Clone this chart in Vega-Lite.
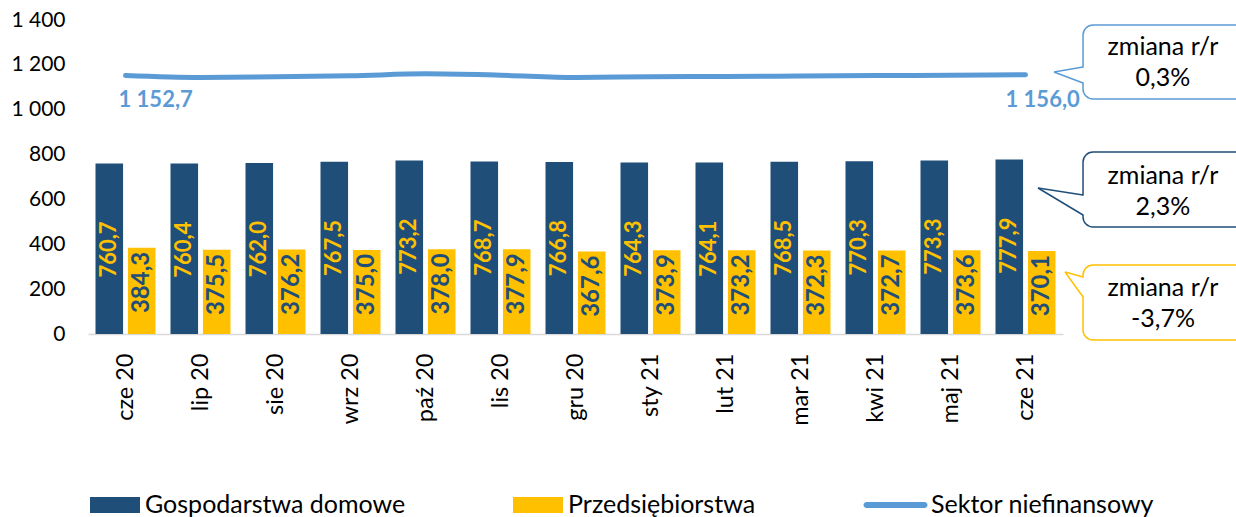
{
  "$schema": "https://vega.github.io/schema/vega-lite/v6.json",
  "width": 1148,
  "height": 314,
  "autosize": {"type": "none"},
  "padding": {"left": 88, "top": 20, "right": 0, "bottom": 183},
  "config": {
    "view": {"stroke": null},
    "font": "Lato",
    "locale": {"number": {"decimal": ",", "thousands": " ", "grouping": [3], "currency": ["", " zł"]}},
    "axis": {"labelFont": "Lato", "labelColor": "#000000"}
  },
  "datasets": {
    "bars": [
      {"month": "cze 20", "series": "Gospodarstwa domowe", "value": 760.7},
      {"month": "lip 20", "series": "Gospodarstwa domowe", "value": 760.4},
      {"month": "sie 20", "series": "Gospodarstwa domowe", "value": 762.0},
      {"month": "wrz 20", "series": "Gospodarstwa domowe", "value": 767.5},
      {"month": "paź 20", "series": "Gospodarstwa domowe", "value": 773.2},
      {"month": "lis 20", "series": "Gospodarstwa domowe", "value": 768.7},
      {"month": "gru 20", "series": "Gospodarstwa domowe", "value": 766.8},
      {"month": "sty 21", "series": "Gospodarstwa domowe", "value": 764.3},
      {"month": "lut 21", "series": "Gospodarstwa domowe", "value": 764.1},
      {"month": "mar 21", "series": "Gospodarstwa domowe", "value": 768.5},
      {"month": "kwi 21", "series": "Gospodarstwa domowe", "value": 770.3},
      {"month": "maj 21", "series": "Gospodarstwa domowe", "value": 773.3},
      {"month": "cze 21", "series": "Gospodarstwa domowe", "value": 777.9},
      {"month": "cze 20", "series": "Przedsiębiorstwa", "value": 384.3},
      {"month": "lip 20", "series": "Przedsiębiorstwa", "value": 375.5},
      {"month": "sie 20", "series": "Przedsiębiorstwa", "value": 376.2},
      {"month": "wrz 20", "series": "Przedsiębiorstwa", "value": 375.0},
      {"month": "paź 20", "series": "Przedsiębiorstwa", "value": 378.0},
      {"month": "lis 20", "series": "Przedsiębiorstwa", "value": 377.9},
      {"month": "gru 20", "series": "Przedsiębiorstwa", "value": 367.6},
      {"month": "sty 21", "series": "Przedsiębiorstwa", "value": 373.9},
      {"month": "lut 21", "series": "Przedsiębiorstwa", "value": 373.2},
      {"month": "mar 21", "series": "Przedsiębiorstwa", "value": 372.3},
      {"month": "kwi 21", "series": "Przedsiębiorstwa", "value": 372.7},
      {"month": "maj 21", "series": "Przedsiębiorstwa", "value": 373.6},
      {"month": "cze 21", "series": "Przedsiębiorstwa", "value": 370.1}
    ],
    "sector": [
      {"month": "cze 20", "value": 1152.7},
      {"month": "lip 20", "value": 1144},
      {"month": "sie 20", "value": 1147},
      {"month": "wrz 20", "value": 1151},
      {"month": "paź 20", "value": 1160},
      {"month": "lis 20", "value": 1154},
      {"month": "gru 20", "value": 1144},
      {"month": "sty 21", "value": 1147},
      {"month": "lut 21", "value": 1148},
      {"month": "mar 21", "value": 1150},
      {"month": "kwi 21", "value": 1152},
      {"month": "maj 21", "value": 1154},
      {"month": "cze 21", "value": 1156.0}
    ]
  },
  "layer": [
    {
      "layer": [
        {
          "data": {"name": "bars"},
          "mark": {"type": "bar"},
          "encoding": {
            "x": {
              "field": "month", "type": "nominal",
              "scale": {"domain": ["cze 20", "lip 20", "sie 20", "wrz 20", "paź 20", "lis 20", "gru 20", "sty 21", "lut 21", "mar 21", "kwi 21", "maj 21", "cze 21"], "range": [0, 975], "paddingInner": 0.2, "paddingOuter": 0.1},
              "axis": {"title": null, "labelAngle": -90, "labelAlign": "right", "labelBaseline": "middle", "labelPadding": 19, "ticks": false, "tickSize": 0, "domainColor": "#D9D9D9", "domainWidth": 1.5, "labelFontSize": 23.5, "labelFont": "Lato", "labelColor": "#000000"}
            },
            "xOffset": {"field": "series", "type": "nominal", "scale": {"domain": ["Gospodarstwa domowe", "Przedsiębiorstwa"], "paddingInner": 0.15, "paddingOuter": 0}},
            "y": {
              "field": "value", "type": "quantitative",
              "scale": {"domain": [0, 1400], "nice": false},
              "axis": {"title": null, "domain": false, "ticks": false, "tickSize": 0, "grid": false, "labelPadding": 23, "labelFontSize": 21, "labelFont": "Lato", "labelColor": "#000000", "values": [0, 200, 400, 600, 800, 1000, 1200, 1400], "format": ",d"}
            },
            "color": {
              "field": "series", "type": "nominal",
              "scale": {"domain": ["Gospodarstwa domowe", "Przedsiębiorstwa", "Sektor niefinansowy"], "range": ["#1F4E79", "#FFC000", "#5B9BD5"]},
              "legend": {
                "orient": "none", "legendX": 2, "legendY": 460, "direction": "horizontal", "title": null,
                "labelFont": "Lato", "labelFontSize": 25, "labelColor": "#000000", "symbolSize": 2500,
                "labelOffset": 5, "columnPadding": 107, "padding": 0, "symbolStrokeWidth": 0, "labelLimit": 0, "symbolOpacity": 1,
                "encode": {
                  "symbols": {"update": {"shape": {"signal": "datum.value === 'Sektor niefinansowy' ? 'M-1.38,-0.12L0.94,-0.12A0.12,0.12 0 0 1 0.94,0.12L-1.38,0.12A0.12,0.12 0 0 1 -1.38,-0.12Z' : 'M-1,-0.32L1,-0.32L1,0.32L-1,0.32Z'"}}}
                }
              }
            }
          }
        },
        {
          "data": {"name": "bars"},
          "transform": [{"filter": "datum.series === 'Gospodarstwa domowe'"}],
          "mark": {"type": "text", "angle": 270, "align": "right", "baseline": "middle", "dx": -58, "font": "Lato", "fontWeight": "bold", "fontSize": 22, "color": "#FFC000"},
          "encoding": {
            "x": {"field": "month", "type": "nominal"},
            "xOffset": {"field": "series", "type": "nominal", "scale": {"domain": ["Gospodarstwa domowe", "Przedsiębiorstwa"]}},
            "y": {"field": "value", "type": "quantitative"},
            "text": {"field": "value", "type": "quantitative", "format": ".1f"}
          }
        },
        {
          "data": {"name": "bars"},
          "transform": [{"filter": "datum.series === 'Przedsiębiorstwa'"}],
          "mark": {"type": "text", "angle": 270, "align": "right", "baseline": "middle", "dx": -4, "font": "Lato", "fontWeight": "bold", "fontSize": 24, "color": "#1F4E79"},
          "encoding": {
            "x": {"field": "month", "type": "nominal"},
            "xOffset": {"field": "series", "type": "nominal", "scale": {"domain": ["Gospodarstwa domowe", "Przedsiębiorstwa"]}},
            "y": {"field": "value", "type": "quantitative"},
            "text": {"field": "value", "type": "quantitative", "format": ".1f"}
          }
        },
        {
          "data": {"name": "sector"},
          "mark": {"type": "line", "color": "#5B9BD5", "strokeWidth": 5, "strokeCap": "round", "interpolate": "monotone"},
          "encoding": {
            "x": {"field": "month", "type": "nominal"},
            "y": {"field": "value", "type": "quantitative"}
          }
        },
        {
          "data": {"name": "sector"},
          "transform": [{"filter": "datum.month === 'cze 20'"}],
          "mark": {"type": "text", "align": "left", "baseline": "middle", "dx": -7, "dy": 25, "font": "Lato", "fontWeight": "bold", "fontSize": 22, "color": "#5B9BD5"},
          "encoding": {
            "x": {"field": "month", "type": "nominal"},
            "y": {"field": "value", "type": "quantitative"},
            "text": {"field": "value", "type": "quantitative", "format": ",.1f"}
          }
        },
        {
          "data": {"name": "sector"},
          "transform": [{"filter": "datum.month === 'cze 21'"}],
          "mark": {"type": "text", "align": "left", "baseline": "middle", "dx": -20, "dy": 25, "font": "Lato", "fontWeight": "bold", "fontSize": 22, "color": "#5B9BD5"},
          "encoding": {
            "x": {"field": "month", "type": "nominal"},
            "y": {"field": "value", "type": "quantitative"},
            "text": {"field": "value", "type": "quantitative", "format": ",.1f"}
          }
        }
      ]
    },
    {
      "layer": [
        {
          "data": {"values": [{"label": "zmiana r/r\n0,3%"}]},
          "layer": [
            {
              "mark": {"type": "rect", "fill": "white", "stroke": "#5B9BD5", "strokeWidth": 1.5, "cornerRadius": 10},
              "encoding": {
                "x": {"datum": 12.767, "type": "quantitative", "scale": {"domain": [-0.5, 14.8067], "nice": false, "zero": false}, "axis": null},
                "x2": {"datum": 15.5},
                "y": {"datum": 1377.6, "type": "quantitative", "scale": {"domain": [0, 1400], "nice": false, "zero": false}, "axis": null},
                "y2": {"datum": 1047.7}
              }
            },
            {
              "mark": {"type": "rule", "color": "white", "strokeWidth": 4},
              "encoding": {
                "x": {"datum": 12.767, "type": "quantitative", "axis": null},
                "y": {"datum": 1187, "type": "quantitative", "axis": null},
                "y2": {"datum": 1122}
              }
            },
            {
              "mark": {"type": "rule", "color": "#5B9BD5", "strokeWidth": 1.5},
              "encoding": {
                "x": {"datum": 12.38, "type": "quantitative", "axis": null},
                "y": {"datum": 1168.1, "type": "quantitative", "axis": null},
                "x2": {"datum": 12.767},
                "y2": {"datum": 1190.4}
              }
            },
            {
              "mark": {"type": "rule", "color": "#5B9BD5", "strokeWidth": 1.5},
              "encoding": {
                "x": {"datum": 12.38, "type": "quantitative", "axis": null},
                "y": {"datum": 1168.1, "type": "quantitative", "axis": null},
                "x2": {"datum": 12.767},
                "y2": {"datum": 1119.0}
              }
            },
            {
              "mark": {"type": "text", "align": "center", "baseline": "middle", "fontSize": 25, "lineHeight": 31, "lineBreak": "\n", "font": "Lato", "color": "#000000"},
              "encoding": {
                "x": {"datum": 13.833, "type": "quantitative", "axis": null},
                "y": {"datum": 1279.5, "type": "quantitative", "axis": null},
                "text": {"field": "label", "type": "nominal"}
              }
            }
          ]
        },
        {
          "data": {"values": [{"label": "zmiana r/r\n2,3%"}]},
          "layer": [
            {
              "mark": {"type": "rect", "fill": "white", "stroke": "#1F4E79", "strokeWidth": 1.5, "cornerRadius": 10},
              "encoding": {
                "x": {"datum": 12.767, "type": "quantitative", "axis": null},
                "x2": {"datum": 15.5},
                "y": {"datum": 811.4, "type": "quantitative", "axis": null},
                "y2": {"datum": 477.0}
              }
            },
            {
              "mark": {"type": "rule", "color": "white", "strokeWidth": 4},
              "encoding": {
                "x": {"datum": 12.767, "type": "quantitative", "axis": null},
                "y": {"datum": 617, "type": "quantitative", "axis": null},
                "y2": {"datum": 533}
              }
            },
            {
              "mark": {"type": "rule", "color": "#1F4E79", "strokeWidth": 1.5},
              "encoding": {
                "x": {"datum": 12.167, "type": "quantitative", "axis": null},
                "y": {"datum": 650.9, "type": "quantitative", "axis": null},
                "x2": {"datum": 12.767},
                "y2": {"datum": 619.7}
              }
            },
            {
              "mark": {"type": "rule", "color": "#1F4E79", "strokeWidth": 1.5},
              "encoding": {
                "x": {"datum": 12.167, "type": "quantitative", "axis": null},
                "y": {"datum": 650.9, "type": "quantitative", "axis": null},
                "x2": {"datum": 12.767},
                "y2": {"datum": 530.5}
              }
            },
            {
              "mark": {"type": "text", "align": "center", "baseline": "middle", "fontSize": 25, "lineHeight": 31, "lineBreak": "\n", "font": "Lato", "color": "#000000"},
              "encoding": {
                "x": {"datum": 13.833, "type": "quantitative", "axis": null},
                "y": {"datum": 704.4, "type": "quantitative", "axis": null},
                "text": {"field": "label", "type": "nominal"}
              }
            }
          ]
        },
        {
          "data": {"values": [{"label": "zmiana r/r\n-3,7%"}]},
          "layer": [
            {
              "mark": {"type": "rect", "fill": "white", "stroke": "#FFC000", "strokeWidth": 1.5, "cornerRadius": 10},
              "encoding": {
                "x": {"datum": 12.767, "type": "quantitative", "axis": null},
                "x2": {"datum": 15.5},
                "y": {"datum": 307.6, "type": "quantitative", "axis": null},
                "y2": {"datum": -26.7}
              }
            },
            {
              "mark": {"type": "rule", "color": "white", "strokeWidth": 4},
              "encoding": {
                "x": {"datum": 12.767, "type": "quantitative", "axis": null},
                "y": {"datum": 251, "type": "quantitative", "axis": null},
                "y2": {"datum": 168}
              }
            },
            {
              "mark": {"type": "rule", "color": "#FFC000", "strokeWidth": 1.5},
              "encoding": {
                "x": {"datum": 12.527, "type": "quantitative", "axis": null},
                "y": {"datum": 276.4, "type": "quantitative", "axis": null},
                "x2": {"datum": 12.767},
                "y2": {"datum": 254.1}
              }
            },
            {
              "mark": {"type": "rule", "color": "#FFC000", "strokeWidth": 1.5},
              "encoding": {
                "x": {"datum": 12.527, "type": "quantitative", "axis": null},
                "y": {"datum": 276.4, "type": "quantitative", "axis": null},
                "x2": {"datum": 12.767},
                "y2": {"datum": 165.0}
              }
            },
            {
              "mark": {"type": "text", "align": "center", "baseline": "middle", "fontSize": 25, "lineHeight": 31, "lineBreak": "\n", "font": "Lato", "color": "#000000"},
              "encoding": {
                "x": {"datum": 13.833, "type": "quantitative", "axis": null},
                "y": {"datum": 202.9, "type": "quantitative", "axis": null},
                "text": {"field": "label", "type": "nominal"}
              }
            }
          ]
        }
      ]
    }
  ],
  "resolve": {"scale": {"x": "independent", "y": "independent"}}
}
